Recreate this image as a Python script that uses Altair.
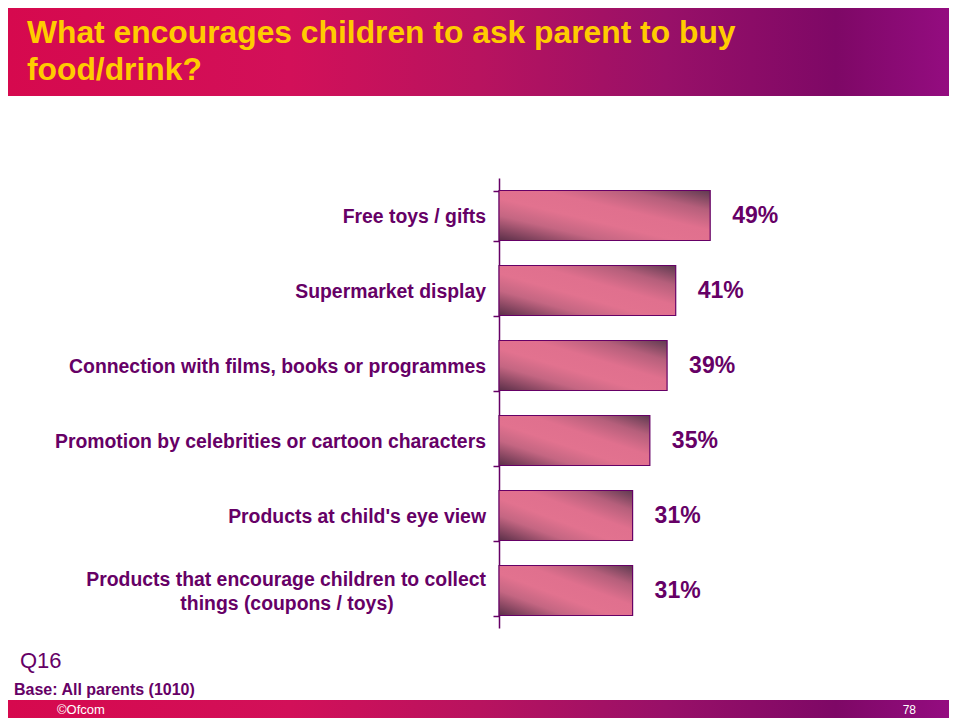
import altair as alt
import pandas as pd

# ---------------- data ----------------
categories = [
    "Free toys / gifts",
    "Supermarket display",
    "Connection with films, books or programmes",
    "Promotion by celebrities or cartoon characters",
    "Products at child's eye view",
    "Products that encourage children to collect things (coupons / toys)",
]
label_line1 = [
    "Free toys / gifts",
    "Supermarket display",
    "Connection with films, books or programmes",
    "Promotion by celebrities or cartoon characters",
    "Products at child's eye view",
    "Products that encourage children to collect",
]
label_line2 = ["", "", "", "", "", "things (coupons / toys)"]
values = [49, 41, 39, 35, 31, 31]

title_lines = ["What encourages children to ask parent to buy", "food/drink?"]
question_text = ["Q16"]
base_text = ["Base: All parents (1010)"]
footer_left = ["\u00a9Ofcom"]
footer_right = ["78"]

# ---------------- styles ----------------
FONT = "Liberation Sans"
PURPLE = "#660066"
YELLOW = "#FFCC00"

df = pd.DataFrame({
    "category": categories,
    "value": values,
    "pct": [f"{v}%" for v in values],
    "line1": label_line1,
    "line2": label_line2,
})

banner_grad = alt.LinearGradient(
    gradient="linear",
    stops=[
        alt.GradientStop(offset=0.0, color="#D6094E"),
        alt.GradientStop(offset=0.3, color="#D21059"),
        alt.GradientStop(offset=0.5, color="#B8135F"),
        alt.GradientStop(offset=0.7, color="#981068"),
        alt.GradientStop(offset=0.88, color="#7E0866"),
        alt.GradientStop(offset=1.0, color="#940C80"),
    ],
    x1=0, y1=0, x2=1, y2=0,
)

bar_grad = alt.LinearGradient(
    gradient="linear",
    stops=[
        alt.GradientStop(offset=0.0, color="#5A2F48"),
        alt.GradientStop(offset=0.25, color="#C46682"),
        alt.GradientStop(offset=0.42, color="#E2728F"),
        alt.GradientStop(offset=0.6, color="#E0708E"),
        alt.GradientStop(offset=0.8, color="#B55F7B"),
        alt.GradientStop(offset=1.0, color="#5E3A50"),
    ],
    x1=0, y1=1, x2=1, y2=0,
)

y_enc = alt.Y(
    "category:N",
    sort=categories,
    scale=alt.Scale(paddingInner=1 / 3, paddingOuter=1 / 6),
    axis=alt.Axis(
        labels=False, title=None, grid=False,
        domainColor=PURPLE, domainWidth=1.5,
        tickColor=PURPLE, tickWidth=1.5, tickSize=6, tickBand="extent",
    ),
)
x_enc = alt.X("value:Q", scale=alt.Scale(domain=[0, 100]), axis=None)

base = alt.Chart(df)

bars = base.mark_bar(fill=bar_grad, stroke=PURPLE, strokeWidth=1.2).encode(y=y_enc, x=x_enc)

pct_text = base.mark_text(
    align="left", baseline="middle", dx=22, fontSize=23, fontWeight="bold",
    color=PURPLE, font=FONT,
).encode(y=y_enc, x=x_enc, text="pct:N")

LABEL_SIZE = 19.4

labels_single = base.transform_filter("datum.line2 == ''").mark_text(
    align="right", baseline="middle", dy=1, fontSize=LABEL_SIZE, fontWeight="bold",
    color=PURPLE, font=FONT,
).encode(y=y_enc, x=alt.value(-13), text="line1:N")

labels_double1 = base.transform_filter("datum.line2 != ''").mark_text(
    align="right", baseline="middle", dy=-11, fontSize=LABEL_SIZE, fontWeight="bold",
    color=PURPLE, font=FONT,
).encode(y=y_enc, x=alt.value(-13), text="line1:N")

labels_double2 = base.transform_filter("datum.line2 != ''").mark_text(
    align="center", baseline="middle", dy=13, fontSize=LABEL_SIZE, fontWeight="bold",
    color=PURPLE, font=FONT,
).encode(y=y_enc, x=alt.value(-212), text="line2:N")

# ---------------- slide decoration ----------------
one = pd.DataFrame({"k": [0]})

header = alt.Chart(one).mark_rect(fill=banner_grad).encode(
    x=alt.value(-491), x2=alt.value(450), y=alt.value(-170), y2=alt.value(-82)
)
footer = alt.Chart(one).mark_rect(fill=banner_grad).encode(
    x=alt.value(-491), x2=alt.value(450), y=alt.value(522), y2=alt.value(540)
)

def txt(s, x, y, size, color, weight="normal", align="left"):
    return alt.Chart(pd.DataFrame({"t": [s]})).mark_text(
        align=align, baseline="alphabetic", fontSize=size, fontWeight=weight,
        color=color, font=FONT,
    ).encode(x=alt.value(x), y=alt.value(y), text="t:N")

title1 = txt(title_lines[0], -472, -135, 31.8, YELLOW, "bold")
title2 = txt(title_lines[1], -472, -98, 31.8, YELLOW, "bold")
q_txt = txt(question_text[0], -479, 490, 22, PURPLE)
base_txt = txt(base_text[0], -485, 517, 16, PURPLE, "bold")
foot_l = txt(footer_left[0], -442, 536, 13, "white")
foot_r = txt(footer_right[0], 417, 536, 12, "white", align="right")

chart = alt.layer(
    header, footer, bars, pct_text, labels_single, labels_double1, labels_double2,
    title1, title2, q_txt, base_txt, foot_l, foot_r,
).properties(
    width=431,
    height=450,
    autosize=alt.AutoSizeParams(type="none"),
    padding={"left": 491, "top": 170, "right": 19, "bottom": 90},
    background="white",
).configure_view(strokeWidth=0)

chart.save("out.html", embed_options={"renderer": "svg", "actions": False})
